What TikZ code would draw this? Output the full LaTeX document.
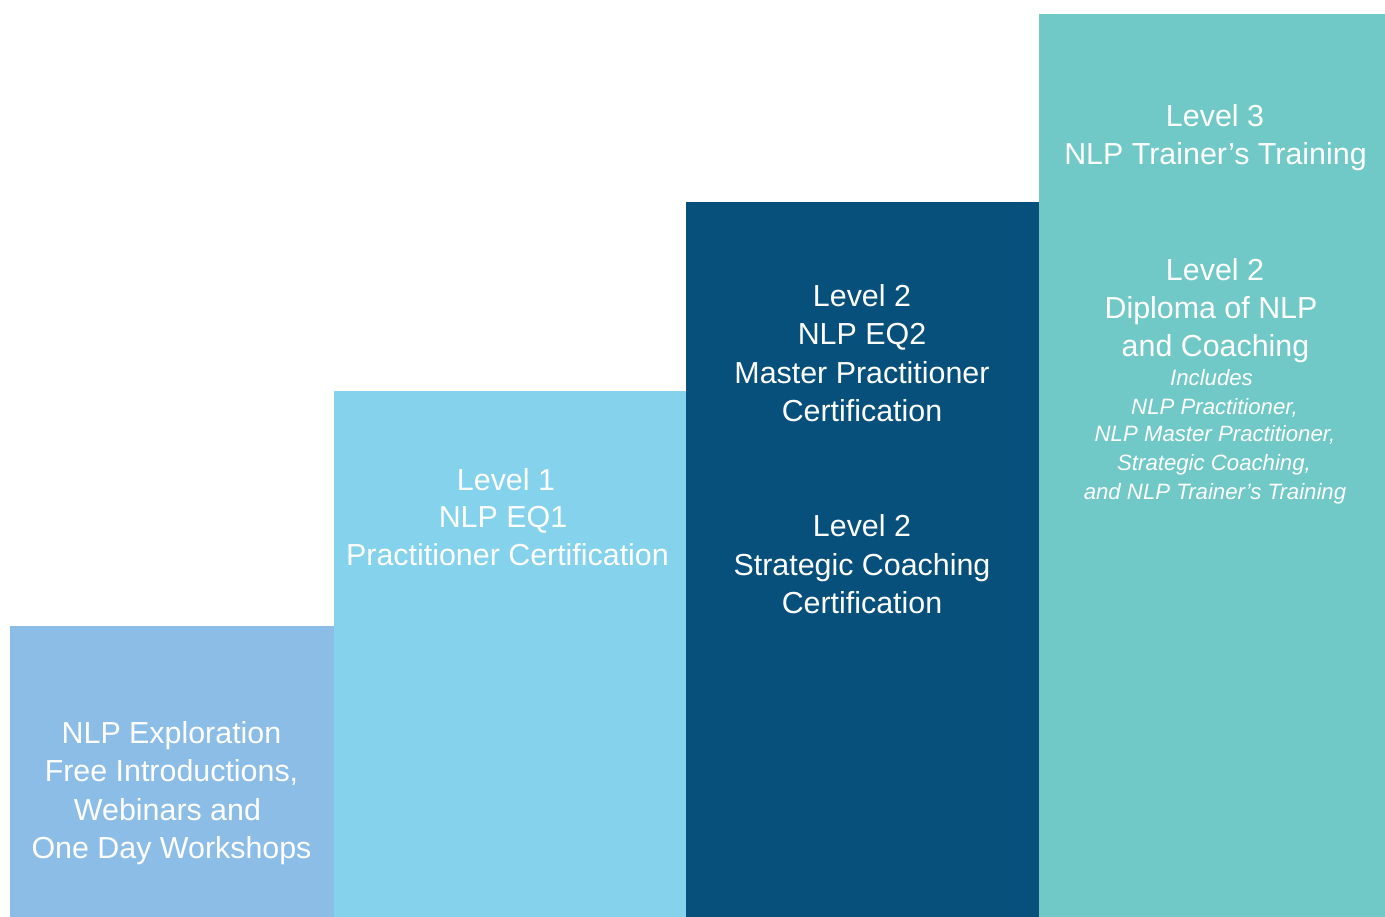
\documentclass[tikz,border=0pt]{standalone}
\usepackage{fontspec}
\setmainfont{Liberation Sans}
\definecolor{cExplore}{HTML}{8BBDE6}
\definecolor{cLevelOne}{HTML}{84D2EB}
\definecolor{cLevelTwo}{HTML}{07507C}
\definecolor{cLevelThree}{HTML}{70C9C6}
\begin{document}
\begin{tikzpicture}[x=1pt,y=-1pt,
  txt/.style={text=white, anchor=base, inner sep=0pt, font=\fontsize{30.4}{36}\selectfont},
  sub/.style={text=white, anchor=base, inner sep=0pt, font=\fontsize{22.2}{27}\selectfont\itshape}]
\useasboundingbox (0,0) rectangle (1385,917);
% steps
\fill[cExplore]    (10,626)  rectangle (334,917);
\fill[cLevelOne]   (334,391) rectangle (686,917);
\fill[cLevelTwo]   (686,202) rectangle (1039,917);
\fill[cLevelThree] (1039,14) rectangle (1385,917);
% exploration
\node[txt] (e1) at (171.5,743.3) {NLP Exploration};
\node[txt] (e2) at (171.5,781.7) {Free Introductions,};
\node[txt] (e3) at (167.5,820)   {Webinars and};
\node[txt] (e4) at (171.5,858.3) {One Day Workshops};
% level 1
\node[txt] (a1) at (506,490)   {Level 1};
\node[txt] (a2) at (503,527.5) {NLP EQ1};
\node[txt] (a3) at (507.5,565) {Practitioner Certification};
% level 2 master
\node[txt] (m1) at (862,306.7) {Level 2};
\node[txt] (m2) at (862,345)   {NLP EQ2};
\node[txt] (m3) at (862,383.3) {Master Practitioner};
\node[txt] (m4) at (862,421.7) {Certification};
% level 2 coaching
\node[txt] (c1) at (862,536.7) {Level 2};
\node[txt] (c2) at (862,575)   {Strategic Coaching};
\node[txt] (c3) at (862,613.3) {Certification};
% level 3
\node[txt] (t1) at (1215,126.7) {Level 3};
\node[txt] (t2) at (1215.5,165) {NLP Trainer’s Training};
% diploma
\node[txt] (d1) at (1215,280.7)   {Level 2};
\node[txt] (d2) at (1211,319)     {Diploma of NLP};
\node[txt] (d3) at (1215.5,356.7) {and Coaching};
\node[sub] (i1) at (1211.5,385)   {Includes};
\node[sub] (i2) at (1214.5,414)   {NLP Practitioner,};
\node[sub] (i3) at (1215,442)     {NLP Master Practitioner,};
\node[sub] (i4) at (1214,470)     {Strategic Coaching,};
\node[sub] (i5) at (1215,499)     {and NLP Trainer’s Training};
\end{tikzpicture}
\end{document}
